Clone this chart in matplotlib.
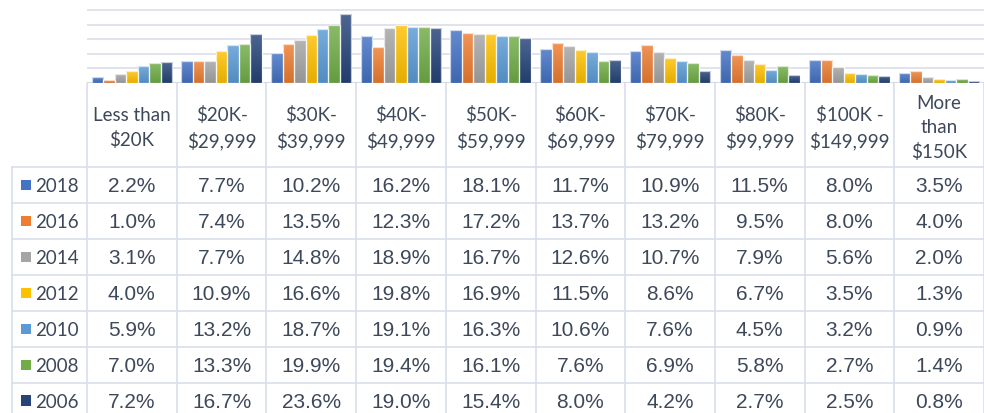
import matplotlib
matplotlib.use('Agg')
import matplotlib.pyplot as plt
import numpy as np
from matplotlib.colors import LinearSegmentedColormap, to_rgb

categories = ['Less than\n$20K', '$20K-\n$29,999', '$30K-\n$39,999', '$40K-\n$49,999',
              '$50K-\n$59,999', '$60K-\n$69,999', '$70K-\n$79,999', '$80K-\n$99,999',
              '$100K -\n$149,999', 'More\nthan\n$150K']
years = ['2018', '2016', '2014', '2012', '2010', '2008', '2006']
share_2018 = [2.2, 7.7, 10.2, 16.2, 18.1, 11.7, 10.9, 11.5, 8.0, 3.5]
share_2016 = [1.0, 7.4, 13.5, 12.3, 17.2, 13.7, 13.2, 9.5, 8.0, 4.0]
share_2014 = [3.1, 7.7, 14.8, 18.9, 16.7, 12.6, 10.7, 7.9, 5.6, 2.0]
share_2012 = [4.0, 10.9, 16.6, 19.8, 16.9, 11.5, 8.6, 6.7, 3.5, 1.3]
share_2010 = [5.9, 13.2, 18.7, 19.1, 16.3, 10.6, 7.6, 4.5, 3.2, 0.9]
share_2008 = [7.0, 13.3, 19.9, 19.4, 16.1, 7.6, 6.9, 5.8, 2.7, 1.4]
share_2006 = [7.2, 16.7, 23.6, 19.0, 15.4, 8.0, 4.2, 2.7, 2.5, 0.8]
series = [share_2018, share_2016, share_2014, share_2012, share_2010, share_2008, share_2006]
colors = ['#4472C4', '#ED7D31', '#A5A5A5', '#FFC000', '#5B9BD5', '#70AD47', '#264478']

text_color = '#3D4859'
line_color = '#D9DEEA'


def shade(c, t):
    r = np.array(to_rgb(c))
    if t > 0:
        return tuple(r + (1 - r) * t)
    return tuple(r * (1 + t))


W, H = 984, 414
fig = plt.figure(figsize=(W / 100, H / 100), dpi=100)

# table drawn in pixel coordinates
tab = fig.add_axes([0, 0, 1, 1])
tab.set_xlim(0, W)
tab.set_ylim(H, 0)
tab.axis('off')

base_y = 84
left_x = 87
col_w = (W - left_x) / len(categories)
row_top = 168
row_h = 36
legend_x = 12

col_edges = [left_x + col_w * k for k in range(len(categories) + 1)]
row_edges = [row_top + row_h * k for k in range(len(years) + 1)]

for x in col_edges:
    tab.plot([x, x], [base_y, H], color=line_color, lw=1.2, solid_capstyle='butt')
tab.plot([legend_x, legend_x], [row_top, H], color=line_color, lw=1.2)
for y in row_edges:
    tab.plot([legend_x, W], [y, y], color=line_color, lw=1.2)

for k, cat in enumerate(categories):
    cx = left_x + col_w * (k + 0.5)
    tab.text(cx, 128, cat, ha='center', va='center', fontsize=13.5, family='Lato',
             color=text_color, linespacing=1.5)

for j, (yr, vals, c) in enumerate(zip(years, series, colors)):
    cy = row_top + row_h * (j + 0.5)
    tab.add_patch(plt.Rectangle((20.5, cy - 5.5), 10.5, 10.5, color=c, lw=0))
    tab.text(35, cy + 0.5, yr, ha='left', va='center', fontsize=13.5, family='Lato',
             color=text_color)
    for k, v in enumerate(vals):
        cx = left_x + col_w * (k + 0.5)
        tab.text(cx, cy + 1, f'{v:.1f}%', ha='center', va='center', fontsize=15,
                 family='Liberation Sans', color=text_color)

# bar chart
ax = fig.add_axes([left_x / W, (H - base_y) / H, (W - left_x) / W, base_y / H])
ax.set_facecolor('none')
for s in ax.spines.values():
    s.set_visible(False)
ax.set_xticks([])
ax.set_yticks([5, 10, 15, 20, 25])
ax.tick_params(left=False, labelleft=False)
ax.grid(axis='y', color='#DDE1EA', lw=1.3)
ax.axhline(0, color='#D3D8E3', lw=1.5)
ax.set_axisbelow(True)

slot = 0.128
x = np.arange(len(categories)) + 0.5
grad = np.linspace(0, 1, 64).reshape(-1, 1)
for j, (vals, c) in enumerate(zip(series, colors)):
    bars = ax.bar(x + (j - 3) * slot, vals, width=slot, color=c,
                  edgecolor=(1, 1, 1, 0.85), lw=0.9, zorder=2)
    cmap = LinearSegmentedColormap.from_list('g', [shade(c, -0.1), shade(c, 0.18)])
    for b in bars:
        x0, w, h = b.get_x(), b.get_width(), b.get_height()
        im = ax.imshow(grad, cmap=cmap, extent=[x0, x0 + w, 0, h], origin='lower',
                       aspect='auto', zorder=2.1)
        im.set_clip_path(b)
        ax.add_patch(plt.Rectangle((x0, 0), w, h, fill=False,
                                   edgecolor=(1, 1, 1, 0.7), lw=0.9, zorder=2.2))
ax.set_xlim(0, len(categories))
ax.set_ylim(0, 28.9)

fig.savefig('out.png', dpi=100)
